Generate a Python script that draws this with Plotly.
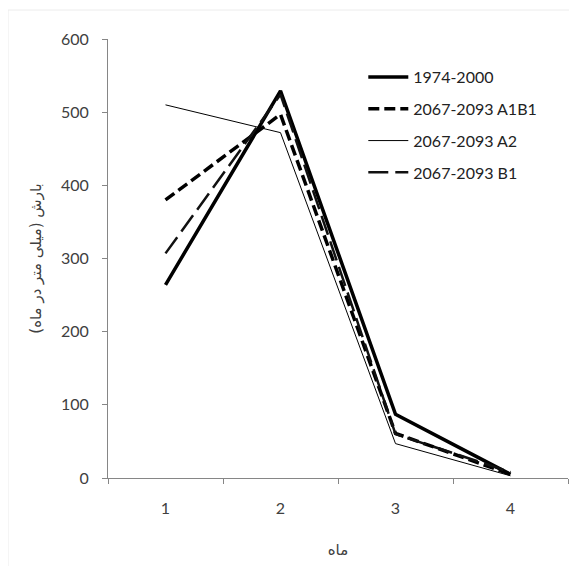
import plotly.graph_objects as go

months = ["1", "2", "3", "4"]
series_names = ["1974-2000", "2067-2093 A1B1", "2067-2093 A2", "2067-2093 B1"]
obs_1974_2000 = [264, 529, 87, 5]
a1b1 = [380, 497, 61, 5]
a2 = [510, 472, 47, 3]
b1 = [307, 524, 60, 8]

x_title = "ماه"
y_title = "بارش (میلی متر در ماه)"
y_ticks = [0, 100, 200, 300, 400, 500, 600]

styles = [
    dict(color="#000000", width=3.5, dash="solid"),
    dict(color="#000000", width=3.5, dash="11px,5px"),
    dict(color="#000000", width=1, dash="solid"),
    dict(color="#111111", width=2.5, dash="20px,7px"),
]

fig = go.Figure()
for i, (name, vals) in enumerate(zip(series_names, [obs_1974_2000, a1b1, a2, b1])):
    fig.add_trace(go.Scatter(
        x=months, y=vals, name=name, mode="lines",
        line=styles[i], legendgroup=f"g{i}",
    ))

axis_color = "#868686"
txt_color = "#404040"
font_main = "Lato, 'Liberation Sans', sans-serif"

fig.update_layout(
    width=577, height=566,
    margin=dict(l=100, r=17, t=31, b=96),
    plot_bgcolor="white", paper_bgcolor="white",
    font=dict(family=font_main, size=16, color=txt_color),
    showlegend=True,
    legend=dict(
        x=0.555, y=0.952, xanchor="left", yanchor="top",
        bgcolor="rgba(0,0,0,0)", font=dict(size=16, color="#222222"),
        tracegroupgap=8, itemwidth=40,
    ),
    xaxis=dict(
        type="category", tickson="boundaries", ticks="outside", ticklen=5,
        range=[-0.5, 3.5],
        tickcolor=axis_color, showline=True, linecolor=axis_color, linewidth=1,
        showgrid=False, zeroline=False, ticklabelstandoff=16,
        tickfont=dict(size=16, color=txt_color),
        title=dict(text=x_title, font=dict(family="DejaVu Sans", size=15, color=txt_color), standoff=28),
    ),
    yaxis=dict(
        range=[0, 600], tickvals=y_ticks, ticks="outside", ticklen=5,
        tickcolor=axis_color, showline=True, linecolor=axis_color, linewidth=1,
        showgrid=False, zeroline=False, ticklabelstandoff=10,
        tickfont=dict(size=16, color=txt_color),
        title=dict(text=y_title, font=dict(family="DejaVu Sans", size=15, color=txt_color), standoff=15),
    ),
)

fig.add_shape(type="rect", xref="paper", yref="paper",
              x0=-100 / 460, x1=1.2, y0=-0.4, y1=(439 + 29) / 439,
              line=dict(color="#ececec", width=1), fillcolor="rgba(0,0,0,0)", layer="below")

fig.write_html("out.html")
